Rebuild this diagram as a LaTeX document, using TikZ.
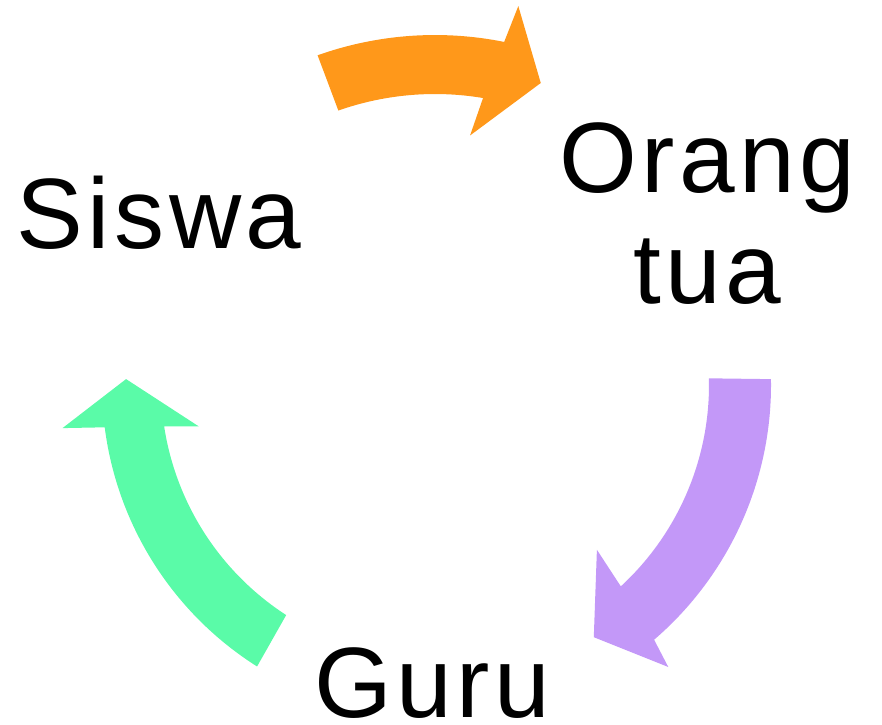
\documentclass[tikz,border=0pt]{standalone}
\usepackage{fontspec}
\setmainfont{Liberation Sans}[LetterSpace=4.5]
\usepackage{tikz}
\usetikzlibrary{positioning}
\usepackage{xcolor}

\definecolor{arroworange}{RGB}{255,152,26}
\definecolor{arrowpurple}{RGB}{195,152,248}
\definecolor{arrowgreen}{RGB}{90,251,168}

\begin{document}
\begin{tikzpicture}[%
    x=1pt,
    y=-1pt,
    role/.style={%
      inner sep=0pt,
      anchor=base,
      align=center,
      font=\fontsize{100}{111}\selectfont
    },
    orangearrow/.style={fill=arroworange},
    purplearrow/.style={fill=arrowpurple},
    greenarrow/.style={fill=arrowgreen}
  ]
    \useasboundingbox (0,0) rectangle (882,724);
    \coordinate (hub) at (435,385);

    \node[role] (siswa) at (159,248) {Siswa};
    \node[role] (ortu)  at (707,303) {Orang\\tua};
    \node[role] (guru)  at (432,717) {Guru};

    % siswa -> orang tua
    \fill[orangearrow] ([shift={(-109.6:350)}]hub) arc[start angle=-109.6, end angle=-78.6, radius=350]
          -- ([shift={(-77.6:388)}]hub) -- ([shift={(-70.7:320)}]hub) -- ([shift={(-82:252)}]hub)
          -- ([shift={(-80.5:291)}]hub) arc[start angle=-80.5, end angle=-109.4, radius=291] -- cycle;
    % orang tua -> guru
    \fill[purplearrow] ([shift={(-1:336)}]hub) arc[start angle=-1, end angle=49.3, radius=336]
          -- ([shift={(50.4:366)}]hub) -- ([shift={(57.8:298)}]hub) -- ([shift={(45.5:231)}]hub)
          -- ([shift={(47.3:274)}]hub) arc[start angle=47.3, end angle=-1.4, radius=274] -- cycle;
    % guru -> siswa
    \fill[greenarrow] ([shift={(122.3:333)}]hub) arc[start angle=122.3, end angle=172.7, radius=333]
          -- ([shift={(173.4:375)}]hub) -- ([shift={(181.1:309)}]hub) -- ([shift={(170.1:240)}]hub)
          -- ([shift={(171.3:274)}]hub) arc[start angle=171.3, end angle=122.9, radius=274] -- cycle;
\end{tikzpicture}
\end{document}
